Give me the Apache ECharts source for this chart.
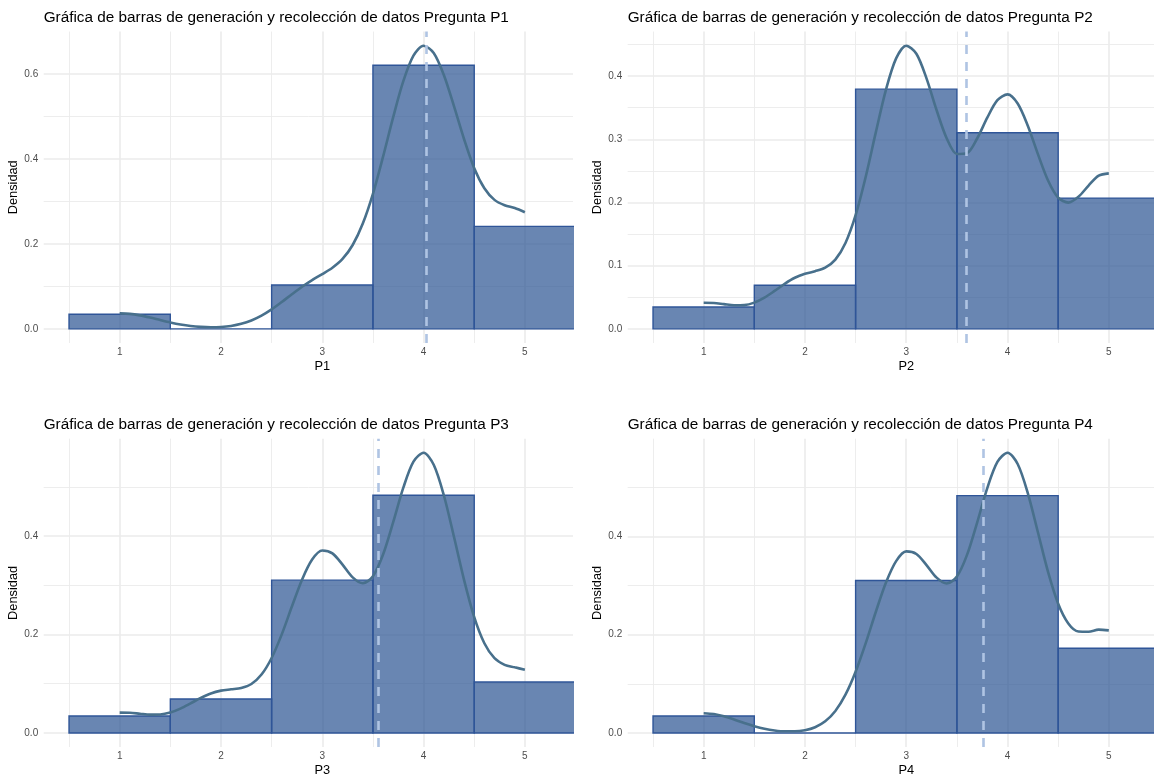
<!DOCTYPE html>
<html>
<head>
<meta charset="utf-8">
<script src="https://cdn.jsdelivr.net/npm/echarts@6/dist/echarts.min.js"></script>
<style>
html,body{margin:0;padding:0;background:#fff;}
#chart{width:1154px;height:778px;}
</style>
</head>
<body>
<div id="chart"></div>
<script>
// ---------------- DATA ----------------
const questions = ['P1', 'P2', 'P3', 'P4'];
const titlePrefix = 'Gráfica de barras de generación y recolección de datos Pregunta ';
const yAxisTitle = 'Densidad';

const binCenters = [1, 2, 3, 4, 5];
const barsP1 = [0.0345, 0.0000, 0.1034, 0.6207, 0.2414];
const barsP2 = [0.0345, 0.0690, 0.3793, 0.3103, 0.2069];
const barsP3 = [0.0345, 0.0690, 0.3103, 0.4828, 0.1034];
const barsP4 = [0.0345, 0.0000, 0.3103, 0.4828, 0.1724];

const densityX = [1.0, 1.1, 1.2, 1.3, 1.4, 1.5, 1.6, 1.7, 1.8, 1.9,
                  2.0, 2.1, 2.2, 2.3, 2.4, 2.5, 2.6, 2.7, 2.8, 2.9,
                  3.0, 3.1, 3.2, 3.3, 3.4, 3.5, 3.6, 3.7, 3.8, 3.9,
                  4.0, 4.1, 4.2, 4.3, 4.4, 4.5, 4.6, 4.7, 4.8, 4.9, 5.0];
const densityP1 = [0.0364, 0.0352, 0.0317, 0.0266, 0.0208, 0.0152, 0.0104, 0.0068, 0.0046, 0.0037,
                   0.0044, 0.0069, 0.0118, 0.0197, 0.0311, 0.0457, 0.0631, 0.0815, 0.0992, 0.1149,
                   0.1290, 0.1439, 0.1646, 0.1974, 0.2480, 0.3179, 0.4054, 0.4985, 0.5831, 0.6431,
                   0.6665, 0.6495, 0.5976, 0.5243, 0.4465, 0.3783, 0.3312, 0.3037, 0.2912, 0.2845, 0.2746];
const densityP2 = [0.0413, 0.0410, 0.0391, 0.0373, 0.0376, 0.0415, 0.0494, 0.0600, 0.0713, 0.0808,
                   0.0871, 0.0912, 0.0967, 0.1095, 0.1359, 0.1799, 0.2408, 0.3113, 0.3786, 0.4280,
                   0.4480, 0.4353, 0.3964, 0.3459, 0.3013, 0.2768, 0.2781, 0.3012, 0.3342, 0.3618,
                   0.3711, 0.3566, 0.3215, 0.2765, 0.2348, 0.2076, 0.1998, 0.2090, 0.2268, 0.2424, 0.2461];
const densityP3 = [0.0413, 0.0410, 0.0391, 0.0373, 0.0376, 0.0415, 0.0494, 0.0600, 0.0711, 0.0803,
                   0.0860, 0.0887, 0.0915, 0.0995, 0.1186, 0.1523, 0.2002, 0.2567, 0.3113, 0.3522,
                   0.3705, 0.3647, 0.3418, 0.3160, 0.3040, 0.3183, 0.3623, 0.4280, 0.4981, 0.5510,
                   0.5691, 0.5447, 0.4828, 0.3984, 0.3104, 0.2353, 0.1822, 0.1518, 0.1384, 0.1333, 0.1284];
const densityP4 = [0.0402, 0.0385, 0.0339, 0.0274, 0.0203, 0.0139, 0.0087, 0.0052, 0.0034, 0.0034,
                   0.0057, 0.0117, 0.0237, 0.0448, 0.0779, 0.1246, 0.1829, 0.2467, 0.3060, 0.3496,
                   0.3694, 0.3642, 0.3416, 0.3160, 0.3040, 0.3183, 0.3623, 0.4281, 0.4982, 0.5514,
                   0.5702, 0.5473, 0.4881, 0.4083, 0.3277, 0.2629, 0.2228, 0.2065, 0.2061, 0.2103, 0.2088];

const meanValues = [4.0345, 3.5862, 3.5517, 3.7586];

const xTickLabels = [1, 2, 3, 4, 5];
const xMinorBreaks = [0.5, 1.5, 2.5, 3.5, 4.5];
const yTicksP1 = [0, 0.2, 0.4, 0.6];
const yMinorP1 = [0.1, 0.3, 0.5];
const yTicksP2 = [0, 0.1, 0.2, 0.3, 0.4];
const yMinorP2 = [0.05, 0.15, 0.25, 0.35, 0.45];
const yTicksP3 = [0, 0.2, 0.4];
const yMinorP3 = [0.1, 0.3, 0.5];
const yTicksP4 = [0, 0.2, 0.4];
const yMinorP4 = [0.1, 0.3, 0.5];

// ---------------- LAYOUT / STYLE ----------------
const BIN_WIDTH = 1;
const FONT = '"Liberation Sans", Arial, sans-serif';
const GRIDS = [
  {left: 43.7, top: 31.6, width: 529.3, height: 311.4},
  {left: 627.7, top: 31.6, width: 526.3, height: 311.4},
  {left: 43.7, top: 438.7, width: 529.3, height: 310.4},
  {left: 627.7, top: 438.7, width: 526.3, height: 310.4}
];
const X_MIN = 0.25;
const X_FULL_MAX = 5.75;
const X_MAX = [5.475, 5.446, 5.475, 5.446];
const Y_MIN = [-0.0333, -0.0224, -0.0285, -0.0285];
const Y_MAX = [0.6999, 0.4704, 0.5976, 0.5987];

const BAR_FILL = 'rgba(42,82,146,0.70)';
const BAR_STROKE = '#2f5598';
const DENS_COLOR = '#48708c';
const MEAN_COLOR = '#afc4e3';
const GRID_COLOR = '#ebebeb';

const allBars = [barsP1, barsP2, barsP3, barsP4];
const allDens = [densityP1, densityP2, densityP3, densityP4];
const allYTicks = [yTicksP1, yTicksP2, yTicksP3, yTicksP4];
const allYMinor = [yMinorP1, yMinorP2, yMinorP3, yMinorP4];

function renderBar(params, api) {
  const x = api.value(0), y = api.value(1);
  const p0 = api.coord([x - BIN_WIDTH / 2, 0]);
  const p1 = api.coord([x + BIN_WIDTH / 2, y]);
  return {
    type: 'rect',
    shape: {x: p0[0], y: p1[1], width: p1[0] - p0[0], height: p0[1] - p1[1]},
    style: {fill: BAR_FILL, stroke: BAR_STROKE, lineWidth: 1.4}
  };
}

const grid = GRIDS.map(g => ({left: g.left, top: g.top, width: g.width, height: g.height, containLabel: false}));

const title = questions.map((q, i) => ({
  text: titlePrefix + q,
  left: GRIDS[i].left,
  top: GRIDS[i].top - 22.5,
  padding: 0,
  textStyle: {fontSize: 15.3, fontWeight: 'normal', color: '#000', fontFamily: FONT, lineHeight: 18}
}));

const xAxis = questions.map((q, i) => {
  const fullCenterShift = ((X_FULL_MAX - X_MAX[i]) / (X_MAX[i] - X_MIN)) * GRIDS[i].width;
  return {
    type: 'value', gridIndex: i, min: X_MIN, max: X_MAX[i],
    axisLine: {show: false}, axisTick: {show: false}, splitLine: {show: false},
    axisLabel: {customValues: xTickLabels, formatter: v => String(v), fontSize: 10, color: '#4d4d4d', margin: 4, fontFamily: FONT},
    name: q, nameLocation: 'middle', nameGap: 17,
    nameTextStyle: {fontSize: 12.8, color: '#000', fontFamily: FONT, padding: [0, 0, 0, fullCenterShift]}
  };
});

const yAxis = questions.map((q, i) => ({
  type: 'value', gridIndex: i, min: Y_MIN[i], max: Y_MAX[i],
  axisLine: {show: false}, axisTick: {show: false}, splitLine: {show: false},
  axisLabel: {customValues: allYTicks[i], formatter: v => v.toFixed(1), fontSize: 10, color: '#4d4d4d', margin: 5.5, fontFamily: FONT},
  name: yAxisTitle, nameLocation: 'middle', nameGap: 19.5,
  nameTextStyle: {fontSize: 12.8, color: '#000', fontFamily: FONT}
}));

const series = [];
questions.forEach((q, i) => {
  const major = {color: GRID_COLOR, width: 1.6, type: 'solid'};
  const minor = {color: GRID_COLOR, width: 0.9, type: 'solid'};
  const lines = []
    .concat(xTickLabels.map(v => ({xAxis: v, lineStyle: major})))
    .concat(xMinorBreaks.map(v => ({xAxis: v, lineStyle: minor})))
    .concat(allYTicks[i].map(v => ({yAxis: v, lineStyle: major})))
    .concat(allYMinor[i].map(v => ({yAxis: v, lineStyle: minor})));
  series.push({
    type: 'line', xAxisIndex: i, yAxisIndex: i, data: [], z: 1, silent: true,
    markLine: {silent: true, z: 1, symbol: ['none', 'none'], label: {show: false}, animation: false, data: lines}
  });
  series.push({
    type: 'custom', xAxisIndex: i, yAxisIndex: i, z: 2, clip: true, silent: true,
    data: binCenters.map((c, j) => [c, allBars[i][j]]),
    renderItem: renderBar
  });
  series.push({
    type: 'line', xAxisIndex: i, yAxisIndex: i, z: 3, silent: true,
    data: densityX.map((x, j) => [x, allDens[i][j]]),
    showSymbol: false, smooth: 0.3,
    lineStyle: {color: DENS_COLOR, width: 2.6},
    markLine: {
      silent: true, z: 4, symbol: ['none', 'none'], label: {show: false}, animation: false,
      lineStyle: {color: MEAN_COLOR, width: 2.6, type: [9, 8]},
      data: [{xAxis: meanValues[i]}]
    }
  });
});

const chart = echarts.init(document.getElementById('chart'), null, {renderer: 'canvas'});
chart.setOption({
  animation: false,
  backgroundColor: '#ffffff',
  textStyle: {fontFamily: FONT},
  title: title,
  grid: grid,
  xAxis: xAxis,
  yAxis: yAxis,
  series: series
});
</script>
</body>
</html>
